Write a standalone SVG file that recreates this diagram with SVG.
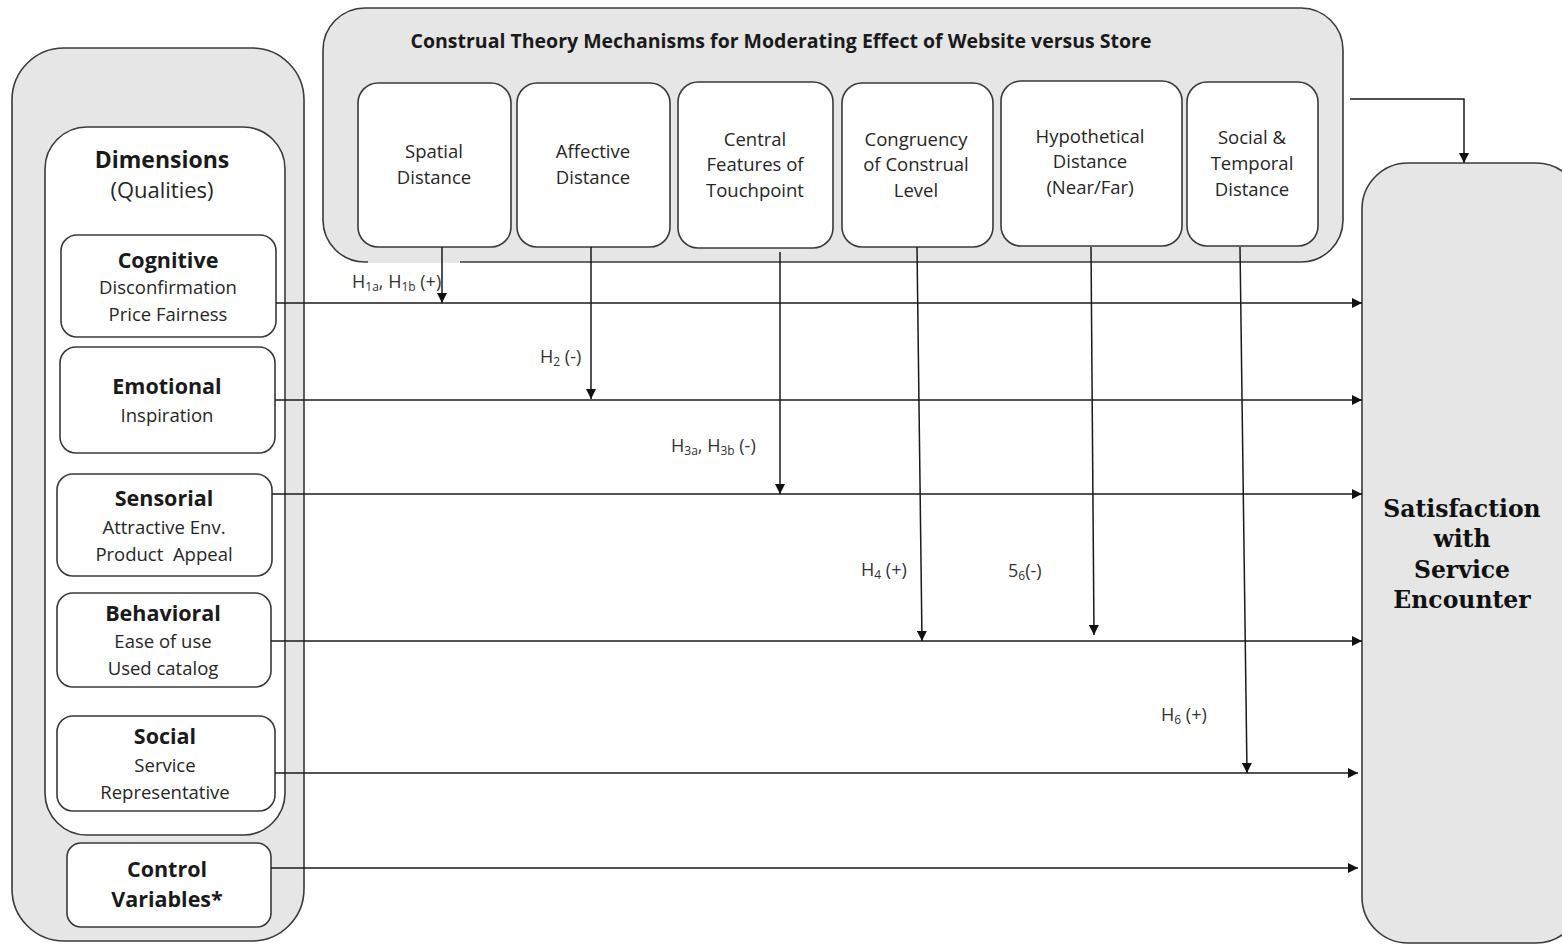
<svg xmlns="http://www.w3.org/2000/svg" width="1562" height="945" viewBox="0 0 1562 945">
<style>
.cont{fill:#e6e6e6;stroke:#3a3a3a;stroke-width:1.6}
.box{fill:#fff;stroke:#3a3a3a;stroke-width:1.6}
.t{font-family:"Open Sans","Liberation Sans",sans-serif;font-size:18.5px;fill:#262626;text-anchor:middle}
.b{font-family:"Open Sans","Liberation Sans",sans-serif;font-size:21.5px;font-weight:bold;fill:#1a1a1a;text-anchor:middle}
.lab{font-family:"Open Sans","Liberation Sans",sans-serif;font-size:18px;fill:#333}
.sub{font-size:12px}
.sat{font-family:"DejaVu Serif","Liberation Serif",serif;font-size:23.5px;font-weight:bold;fill:#111;text-anchor:middle}
.ln{stroke:#1a1a1a;stroke-width:1.5;fill:none}
</style>
<defs>
<marker id="ah" viewBox="0 0 10 10" refX="10" refY="5" markerWidth="10" markerHeight="10" markerUnits="userSpaceOnUse" orient="auto">
<path d="M0,0 L10,5 L0,10 Z" fill="#111"/>
</marker>
</defs>
<rect width="1562" height="945" fill="#fff"/>

<g id="left-container">
<rect class="cont" x="12" y="48" width="292" height="893" rx="52"/>
</g>
<g id="dimensions">
<rect class="box" x="45" y="127" width="240" height="708" rx="42"/>
<text class="b" x="162" y="168" style="font-size:23px">Dimensions</text>
<text class="t" x="162" y="198" style="font-size:22px">(Qualities)</text>
</g>
<g id="cognitive">
<rect class="box" x="61" y="235" width="215" height="102" rx="16"/>
<text class="b" x="168" y="268">Cognitive</text>
<text class="t" x="168" y="294">Disconfirmation</text>
<text class="t" x="168" y="321">Price Fairness</text>
</g>
<g id="emotional">
<rect class="box" x="60" y="347" width="215" height="106" rx="16"/>
<text class="b" x="167" y="394">Emotional</text>
<text class="t" x="167" y="422">Inspiration</text>
</g>
<g id="sensorial">
<rect class="box" x="57" y="474" width="215" height="102" rx="16"/>
<text class="b" x="164" y="506">Sensorial</text>
<text class="t" x="164" y="534">Attractive Env.</text>
<text class="t" x="164" y="561" xml:space="preserve">Product  Appeal</text>
</g>
<g id="behavioral">
<rect class="box" x="57" y="593" width="214" height="94" rx="16"/>
<text class="b" x="163" y="621">Behavioral</text>
<text class="t" x="163" y="648">Ease of use</text>
<text class="t" x="163" y="675">Used catalog</text>
</g>
<g id="social">
<rect class="box" x="57" y="716" width="218" height="95" rx="16"/>
<text class="b" x="165" y="744">Social</text>
<text class="t" x="165" y="772">Service</text>
<text class="t" x="165" y="799">Representative</text>
</g>
<g id="control">
<rect class="box" x="67" y="843" width="204" height="84" rx="14"/>
<text class="b" x="167" y="877">Control</text>
<text class="b" x="167" y="907">Variables*</text>
</g>

<g id="mechanisms">
<rect class="cont" x="323" y="8" width="1020" height="254" rx="42"/>
<rect x="368" y="260" width="92" height="3" fill="#e6e6e6"/>
<text class="b" x="781" y="48" style="font-size:19.5px">Construal Theory Mechanisms for Moderating Effect of Website versus Store</text>
</g>
<g id="spatial">
<rect class="box" x="358" y="83" width="153" height="164" rx="20"/>
<text class="t" x="434" y="158">Spatial</text>
<text class="t" x="434" y="184">Distance</text>
</g>
<g id="affective">
<rect class="box" x="517" y="83" width="153" height="164" rx="20"/>
<text class="t" x="593" y="158">Affective</text>
<text class="t" x="593" y="184">Distance</text>
</g>
<g id="central">
<rect class="box" x="678" y="82" width="155" height="166" rx="20"/>
<text class="t" x="755" y="146">Central</text>
<text class="t" x="755" y="171">Features of</text>
<text class="t" x="755" y="197">Touchpoint</text>
</g>
<g id="congruency">
<rect class="box" x="842" y="83" width="151" height="164" rx="20"/>
<text class="t" x="916" y="146">Congruency</text>
<text class="t" x="916" y="171">of Construal</text>
<text class="t" x="916" y="197">Level</text>
</g>
<g id="hypothetical">
<rect class="box" x="1001" y="81" width="181" height="165" rx="20"/>
<text class="t" x="1090" y="143">Hypothetical</text>
<text class="t" x="1090" y="168">Distance</text>
<text class="t" x="1090" y="194">(Near/Far)</text>
</g>
<g id="social-temporal">
<rect class="box" x="1187" y="82" width="131" height="164" rx="20"/>
<text class="t" x="1252" y="144">Social &amp;</text>
<text class="t" x="1252" y="170">Temporal</text>
<text class="t" x="1252" y="196">Distance</text>
</g>

<g id="satisfaction">
<rect class="cont" x="1362" y="163" width="220" height="780" rx="46"/>
<text class="sat" x="1462" y="517">Satisfaction</text>
<text class="sat" x="1462" y="547">with</text>
<text class="sat" x="1462" y="578">Service</text>
<text class="sat" x="1462" y="608">Encounter</text>
</g>

<g id="connectors">
<path class="ln" d="M1350,99 H1464 V163" marker-end="url(#ah)"/>
<path class="ln" d="M276,303 H1362" marker-end="url(#ah)"/>
<path class="ln" d="M275,400 H1362" marker-end="url(#ah)"/>
<path class="ln" d="M272,494 H1362" marker-end="url(#ah)"/>
<path class="ln" d="M271,641 H1362" marker-end="url(#ah)"/>
<path class="ln" d="M275,773 H1358" marker-end="url(#ah)"/>
<path class="ln" d="M271,868 H1358" marker-end="url(#ah)"/>
<path class="ln" d="M442,247 V303" marker-end="url(#ah)"/>
<path class="ln" d="M591,247 V399" marker-end="url(#ah)"/>
<path class="ln" d="M780,252 V494" marker-end="url(#ah)"/>
<path class="ln" d="M917,247 L922,641" marker-end="url(#ah)"/>
<path class="ln" d="M1091,247 L1094,635" marker-end="url(#ah)"/>
<path class="ln" d="M1240,247 L1247,773" marker-end="url(#ah)"/>
</g>

<g id="labels">
<text class="lab" x="352" y="288">H<tspan class="sub" dy="3">1a</tspan><tspan dy="-3">, H</tspan><tspan class="sub" dy="3">1b</tspan><tspan dy="-3"> (+)</tspan></text>
<text class="lab" x="540" y="363">H<tspan class="sub" dy="3">2</tspan><tspan dy="-3"> (-)</tspan></text>
<text class="lab" x="671" y="452">H<tspan class="sub" dy="3">3a</tspan><tspan dy="-3">, H</tspan><tspan class="sub" dy="3">3b</tspan><tspan dy="-3"> (-)</tspan></text>
<text class="lab" x="861" y="576">H<tspan class="sub" dy="3">4</tspan><tspan dy="-3"> (+)</tspan></text>
<text class="lab" x="1008" y="577">5<tspan class="sub" dy="3">6</tspan><tspan dy="-3">(-)</tspan></text>
<text class="lab" x="1161" y="721">H<tspan class="sub" dy="3">6</tspan><tspan dy="-3"> (+)</tspan></text>
</g>
</svg>
